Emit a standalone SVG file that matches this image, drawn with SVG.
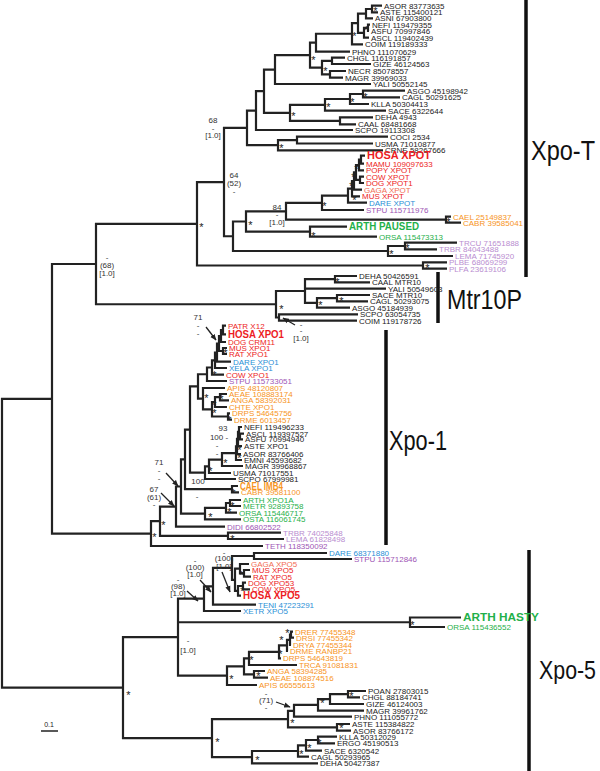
<svg xmlns="http://www.w3.org/2000/svg" width="600" height="771" viewBox="0 0 600 771">
<defs>
<style>
text{font-family:"Liberation Sans",Arial,sans-serif;font-size:8px;fill:#222}
.bd{font-weight:bold;font-size:10px}
.r{fill:#ed1c24}.s{fill:#f26d55}.b{fill:#2b8fd6}.p{fill:#9e55b5}.o{fill:#f7941d}.g{fill:#1fb04a}.l{fill:#b98dd0}
.e{stroke:#222;stroke-width:2.2;fill:none;stroke-linejoin:miter}
.a{fill:#333;text-anchor:middle}
.st text{font-size:11px;fill:#222}
.ar{stroke:#222;stroke-width:1.3;fill:none;marker-end:url(#ah)}
.big{font-size:23px;fill:#111}
.bar{stroke:#111;stroke-width:3.5}
</style>
<marker id="ah" viewBox="0 0 10 10" refX="9" refY="5" markerWidth="5" markerHeight="5" orient="auto"><path d="M0,1 L10,5 L0,9 z" fill="#222"/></marker>
</defs>
<rect width="600" height="771" fill="#fff"/>
<g id="connectors" class="e">
<path d="M382,5.7H372V12.3H378M372,9H366V18.3H373M370,24.7H368V31H369M368,27.850H364V37.7H369M366,13.65H358V32.8H364M358,23.2H352V44.3H363M352,33.75H316V51.7H350"/>
<path d="M345,57.7H332V64H371M346,71H330V77.7H343M332,60.85H322V74.35H330M316,42.7H310V67.6H322M310,55.15H275V84H371"/>
<path d="M405,90.7H363V97.3H400M363,94H350V104H369M350,99H325V110.7H386M373,117.3H340V124.3H356M325,104.85H290V120.8H340M275,69.6H264V112.8H290M264,91.2H256V130H353"/>
<path d="M388,136.7H297V143.5H373M297,140.1H278V150.3H383M256,110.6H247V145.2H278"/>
<path d="M365,155.7H361V163.7H364M361,159.7H359V170.3H364M364,176.7H360V183H364M359,165H356V179.85H360M356,172.4H354V189.7H362M354,181H352V196.3H360M352,188.65H348V202.7H367M348,195.7H322V210H364"/>
<path d="M451,216.7H446V222.7H461M322,202.85H286V219.7H446M347,226.7H310V236.7H377M286,211.3H246V231.7H310"/>
<path d="M457,242.7H405V249.3H437M405,246H388V256H453M246,221.5H233V251H388M247,127.9H224V236.25H233M447,262.3H423V268.7H447M224,182.1H197V265.5H423"/>
<path d="M357,276H335V282.3H370M370,295H337V301.3H368M337,298.15H317V307.7H350M335,279.15H305V302.9H317M305,288.7H386M358,314.3H279V320.7H357M305,291H276V317.5H279"/>
<path d="M197,223.8H96V304.25H276"/>
<path d="M226,325.7H223V334.3H226M223,330H221V342H226M227,348H223V354H227M221,336H219V351H223M219,343.5H217V361.7H231M217,352.6H215V368H227M215,360.3H212V374.7H224M212,367.5H207V381H227"/>
<path d="M230,413.3H228V419.7H232M227,394H220V400.3H229M220,397.15H215V407H227M215,402.1H212V416.5H228M225,388H203V409.3H212M207,374.25H198V398.65H203"/>
<path d="M244,433.7H240V439.3H243M242,427H239V436.5H240M239,431.75H238V446H242M238,438.9H237V454H241M237,446.45H236V460H242M236,453.2H222V466H243M222,459.6H209V473H231M209,466.3H205V479H236M198,386.45H190V472.65H205"/>
<path d="M238,486H232V492.3H239M190,429.55H185V489.15H232M241,500H230V506H241M230,503H226V512.7H237M226,507.85H205V519.3H241M185,459.35H181V513.6H205M181,486.5H176V526.7H225"/>
<path d="M281,532.7H228V539H284M176,506.6H160V535.85H228M160,521.2H151V546H263M96,264H52V533.6H151"/>
<path d="M250,570H244V576.7H251M249,564H240V573.35H244M246,582.7H243V589.3H250M243,586H238V595.7H241M240,568.7H235V590.85H238M327,553H254V559H352M254,556H232V579.8H235M232,567.9H213V604.7H256M213,586.3H204V611H241"/>
<path d="M461,617.5H410V627H445"/>
<path d="M293,631.7H291V637.7H294M291,634.7H290V645H291M290,639.85H287V651H288M287,645.4H279V658.3H281M279,651.85H249V665H297M265,671H254V677.7H268M249,658.4H244V674.35H254M244,666.4H227V685H257"/>
<path d="M204,598.65H178V675.7H227M178,622.25H410"/>
<path d="M366,691H348V697.3H360M348,694.15H330V704H364M330,699.1H318V710.7H364M318,704.9H294V716.7H352M350,724H337V730.7H351M294,710.8H288V727.35H337"/>
<path d="M337,736.7H318V743.3H335M318,740H306V750.7H322M306,745.35H298V756.7H309M298,751H252V763.3H318M288,719.1H212V757.15H252"/>
<path d="M178,637.2H123V738.1H212M52,398.8H2V687.65H123"/>
<path class="ar" d="M295,325L283,318"/>
<path class="ar" d="M206,327L216,340"/>
<path class="ar" d="M166,473L178,486"/>
<path class="ar" d="M161,493L174,506"/>
<path class="ar" d="M222,572L230,592"/>
<path class="ar" d="M200,580L211,592"/>
<path class="ar" d="M187,591L198,601"/>
<path class="ar" d="M276,702L290,707"/>
</g>
<g id="clade-bars">
<line class="bar" x1="526" y1="0" x2="526" y2="277"/>
<line class="bar" x1="438" y1="272" x2="438" y2="323"/>
<line class="bar" x1="386" y1="330" x2="386" y2="545"/>
<line class="bar" x1="529" y1="550" x2="529" y2="771"/>
<text class="big" transform="translate(531,160) scale(1,1.18)" x="0" y="0" textLength="64" lengthAdjust="spacingAndGlyphs">Xpo-T</text>
<text class="big" transform="translate(447,309) scale(1,1.18)" x="0" y="0" textLength="75" lengthAdjust="spacingAndGlyphs">Mtr10P</text>
<text class="big" transform="translate(389,450) scale(1,1.18)" x="0" y="0" textLength="58" lengthAdjust="spacingAndGlyphs">Xpo-1</text>
<text class="big" transform="translate(539,679) scale(1,1.18)" x="0" y="0" style="font-size:22px" textLength="57" lengthAdjust="spacingAndGlyphs">Xpo-5</text>
</g>
<g id="scale">
<line x1="41" y1="731" x2="58" y2="731" stroke="#222" stroke-width="1.5"/>
<text x="49" y="727" style="font-size:7px;text-anchor:middle">0.1</text>
</g>
<g id="support">
<text class="a" x="213" y="123">68</text><text class="a" x="213" y="131">-</text><text class="a" x="213" y="138">[1.0]</text>
<text class="a" x="234" y="178">64</text><text class="a" x="234" y="186">(52)</text><text class="a" x="234" y="194">-</text>
<text class="a" x="277" y="210">84</text><text class="a" x="277" y="217">-</text><text class="a" x="277" y="225">[1.0]</text>
<text class="a" x="107" y="260">-</text><text class="a" x="107" y="268">(68)</text><text class="a" x="107" y="276">[1.0]</text>
<text class="a" x="301" y="327">-</text><text class="a" x="301" y="333">-</text><text class="a" x="301" y="341">[1.0]</text>
<text class="a" x="198" y="320">71</text><text class="a" x="198" y="328">-</text><text class="a" x="198" y="336">-</text>
<text class="a" x="223" y="431">93</text><text class="a" x="219" y="440">100 -</text><text class="a" x="217" y="448">-</text><text class="a" x="217" y="456">-</text>
<text class="a" x="198" y="484">100</text><text class="a" x="197" y="499">-</text>
<text class="a" x="159" y="465">71</text><text class="a" x="159" y="473">-</text><text class="a" x="159" y="481">-</text>
<text class="a" x="154" y="492">67</text><text class="a" x="154" y="500">(61)</text><text class="a" x="154" y="507">-</text>
<text class="a" x="224" y="555">-</text><text class="a" x="224" y="561">(100)</text><text class="a" x="224" y="569">[1.0]</text>
<text class="a" x="195" y="563">-</text><text class="a" x="195" y="570">(100)</text><text class="a" x="195" y="577">[1.0]</text>
<text class="a" x="178" y="582">-</text><text class="a" x="178" y="589">(98)</text><text class="a" x="178" y="596">[1.0]</text>
<text class="a" x="188" y="643">-</text><text class="a" x="188" y="653">[1.0]</text>
<text class="a" x="266" y="696">-</text><text class="a" x="266" y="703">(71)</text><text class="a" x="266" y="710">-</text>
</g>
<g id="stars" class="st" transform="translate(-0.8,1.5)">
<text x="374" y="13">*</text><text x="365" y="32">*</text><text x="353" y="38">*</text><text x="312" y="62">*</text><text x="324" y="73">*</text><text x="327" y="109">*</text><text x="364" y="99">*</text><text x="351" y="104">*</text><text x="292" y="118">*</text><text x="280" y="150">*</text>
<text x="355" y="171">*</text><text x="352" y="179">*</text><text x="350" y="188">*</text><text x="353" y="202">*</text><text x="323" y="208">*</text><text x="447" y="224">*</text><text x="312" y="238">*</text><text x="249" y="227">*</text><text x="406" y="250">*</text><text x="390" y="256">*</text><text x="426" y="270">*</text><text x="200" y="229">*</text>
<text x="336" y="284">*</text><text x="340" y="303">*</text><text x="319" y="307">*</text><text x="280" y="311">*</text>
<text x="224" y="355">*</text><text x="213" y="377">*</text><text x="205" y="400">*</text><text x="220" y="401">*</text><text x="213" y="407">*</text><text x="213" y="415">*</text><text x="228" y="422">*</text><text x="238" y="452">*</text><text x="238" y="460">*</text><text x="224" y="465">*</text><text x="209" y="473">*</text><text x="232" y="495">*</text><text x="231" y="508">*</text><text x="228" y="514">*</text><text x="209" y="519">*</text><text x="162" y="527">*</text><text x="153" y="539">*</text><text x="231" y="541">*</text>
<text x="240" y="577">*</text><text x="241" y="593">*</text><text x="411" y="627">*</text><text x="286" y="635">*</text><text x="280" y="642">*</text><text x="279" y="656">*</text><text x="250" y="662">*</text><text x="257" y="678">*</text><text x="230" y="681">*</text><text x="127" y="697">*</text>
<text x="350" y="698">*</text><text x="321" y="705">*</text><text x="291" y="725">*</text><text x="340" y="730">*</text><text x="318" y="745">*</text><text x="308" y="750">*</text><text x="300" y="756">*</text><text x="256" y="762">*</text><text x="216" y="744">*</text>
</g>
<g id="xpoT-leaves">
<g id="t1"><text x="384" y="8.7">ASOR 83773635</text></g>
<g id="t2"><text x="380" y="15.3">ASTE 115400121</text></g>
<g id="t3"><text x="375" y="21.3">ASNI 67903800</text></g>
<g id="t4"><text x="372" y="27.7">NEFI 119479355</text></g>
<g id="t5"><text x="371" y="34">ASFU 70997846</text></g>
<g id="t6"><text x="371" y="40.7">ASCL 119402439</text></g>
<g id="t7"><text x="365" y="47.3">COIM 119189333</text></g>
<g id="t8"><text x="352" y="54.7">PHNO 111070629</text></g>
<g id="t9"><text x="347" y="60.7">CHGL 116191857</text></g>
<g id="t10"><text x="373" y="67">GIZE 46124563</text></g>
<g id="t11"><text x="348" y="74">NECR 85078557</text></g>
<g id="t12"><text x="345" y="80.7">MAGR 39969033</text></g>
<g id="t13"><text x="373" y="87">YALI 50552145</text></g>
<g id="t14"><text x="407" y="93.7">ASGO 45198942</text></g>
<g id="t15"><text x="402" y="100.3">CAGL 50291625</text></g>
<g id="t16"><text x="371" y="107">KLLA 50304413</text></g>
<g id="t17"><text x="388" y="113.7">SACE 6322644</text></g>
<g id="t18"><text x="375" y="120.3">DEHA 4943</text></g>
<g id="t19"><text x="358" y="127.3">CAAL 68481668</text></g>
<g id="t20"><text x="355" y="133">SCPO 19113308</text></g>
<g id="t21"><text x="390" y="139.7">COCI 2534</text></g>
<g id="t22"><text x="375" y="146.5">USMA 71010877</text></g>
<g id="t23"><text x="385" y="153.3">CRNE 58267666</text></g>
<g id="t24"><text class="bd r" x="367" y="159.3" textLength="64" lengthAdjust="spacingAndGlyphs">HOSA XPOT</text></g>
<g id="t25"><text class="r" x="366" y="166.7">MAMU 109097633</text></g>
<g id="t26"><text class="r" x="366" y="173.3">POPY XPOT</text></g>
<g id="t27"><text class="r" x="366" y="179.7">COW XPOT</text></g>
<g id="t28"><text class="r" x="366" y="186">DOG XPOT1</text></g>
<g id="t29"><text class="s" x="364" y="192.7">GAGA XPOT</text></g>
<g id="t30"><text class="r" x="362" y="199.3">MUS XPOT</text></g>
<g id="t31"><text class="b" x="369" y="205.7">DARE XPOT</text></g>
<g id="t32"><text class="p" x="366" y="213">STPU 115711976</text></g>
<g id="t33"><text class="o" x="453" y="219.7">CAEL 25149837</text></g>
<g id="t34"><text class="o" x="463" y="225.7">CABR 39585041</text></g>
<g id="t35"><text class="bd g" x="349" y="230.3" textLength="70" lengthAdjust="spacingAndGlyphs">ARTH PAUSED</text></g>
<g id="t36"><text class="g" x="379" y="239.7">ORSA 115473313</text></g>
<g id="t37"><text class="l" x="459" y="245.7">TRCU 71651888</text></g>
<g id="t38"><text class="l" x="439" y="252.3">TRBR 84043488</text></g>
<g id="t39"><text class="l" x="455" y="259">LEMA 71745920</text></g>
<g id="t40"><text class="l" x="449" y="265.3">PLBE 68069299</text></g>
<g id="t41"><text class="l" x="449" y="271.7">PLFA 23619106</text></g>
</g>
<g id="mtr10-leaves">
<g id="m1"><text x="359" y="279">DEHA 50426591</text></g>
<g id="m2"><text x="372" y="285.3">CAAL MTR10</text></g>
<g id="m3"><text x="388" y="291.7">YALI 50549603</text></g>
<g id="m4"><text x="372" y="298">SACE MTR10</text></g>
<g id="m5"><text x="370" y="304.3">CAGL 50293075</text></g>
<g id="m6"><text x="352" y="310.7">ASGO 45184939</text></g>
<g id="m7"><text x="360" y="317.3">SCPO 63054735</text></g>
<g id="m8"><text x="359" y="323.7">COIM 119178726</text></g>
</g>
<g id="xpo1-leaves">
<g id="a1"><text class="r" x="228" y="328.7">PATR X12</text></g>
<g id="a2"><text class="bd r" x="228" y="337.9" textLength="56" lengthAdjust="spacingAndGlyphs">HOSA XPO1</text></g>
<g id="a3"><text class="r" x="228" y="345">DOG CRM11</text></g>
<g id="a4"><text class="r" x="229" y="351">MUS XPO1</text></g>
<g id="a5"><text class="r" x="229" y="357">RAT XPO1</text></g>
<g id="a6"><text class="b" x="233" y="364.7">DARE XPO1</text></g>
<g id="a7"><text class="b" x="229" y="371">XELA XPO1</text></g>
<g id="a8"><text class="r" x="226" y="377.7">COW XPO1</text></g>
<g id="a9"><text class="p" x="229" y="384">STPU 115733051</text></g>
<g id="a10"><text class="o" x="227" y="391">APIS 48120807</text></g>
<g id="a11"><text class="o" x="229" y="397">AEAE 108883174</text></g>
<g id="a12"><text class="o" x="231" y="403.3">ANGA 58392031</text></g>
<g id="a13"><text class="o" x="229" y="410">CHTE XPO1</text></g>
<g id="a14"><text class="o" x="232" y="416.3">DRPS 54645756</text></g>
<g id="a15"><text class="o" x="234" y="422.7">DRME 6013457</text></g>
<g id="a16"><text x="244" y="430">NEFI 119496233</text></g>
<g id="a17"><text x="246" y="436.7">ASCL 119397527</text></g>
<g id="a18"><text x="245" y="442.3">ASFU 70994940</text></g>
<g id="a19"><text x="244" y="449">ASTE XPO1</text></g>
<g id="a20"><text x="243" y="457">ASOR 83766406</text></g>
<g id="a21"><text x="244" y="463">EMNI 45593682</text></g>
<g id="a22"><text x="245" y="469">MAGR 39968867</text></g>
<g id="a23"><text x="233" y="476">USMA 71017551</text></g>
<g id="a24"><text x="238" y="482">SCPO 67999981</text></g>
<g id="a25"><text class="bd o" x="240" y="489.6" textLength="43" lengthAdjust="spacingAndGlyphs">CAEL IMB4</text></g>
<g id="a26"><text class="o" x="241" y="495.3">CABR 39581100</text></g>
<g id="a27"><text class="g" x="243" y="503">ARTH XPO1A</text></g>
<g id="a28"><text class="g" x="243" y="509">METR 92893758</text></g>
<g id="a29"><text class="g" x="239" y="515.7">ORSA 115446717</text></g>
<g id="a30"><text class="g" x="243" y="522.3">OSTA 116061745</text></g>
<g id="a31"><text class="p" x="227" y="529.7">DIDI 66802522</text></g>
<g id="a32"><text class="l" x="283" y="535.7">TRBR 74025848</text></g>
<g id="a33"><text class="l" x="286" y="542">LEMA 61828498</text></g>
<g id="a34"><text class="p" x="265" y="549">TETH 118350092</text></g>
</g>
<g id="xpo5-leaves">
<g id="f1"><text class="b" x="329" y="556">DARE 68371880</text></g>
<g id="f2"><text class="p" x="354" y="562">STPU 115712846</text></g>
<g id="f3"><text class="s" x="251" y="567">GAGA XPO5</text></g>
<g id="f4"><text class="r" x="252" y="573">MUS XPO5</text></g>
<g id="f5"><text class="r" x="253" y="579.7">RAT XPO5</text></g>
<g id="f6"><text class="r" x="248" y="585.7">DOG XPO53</text></g>
<g id="f7"><text class="r" x="252" y="592.3">COW XPO5</text></g>
<g id="f8"><text class="bd r" x="243" y="599.3" textLength="57" lengthAdjust="spacingAndGlyphs">HOSA XPO5</text></g>
<g id="f9"><text class="b" x="258" y="607.7">TENI 47223291</text></g>
<g id="f10"><text class="b" x="243" y="614">XETR XPO5</text></g>
<g id="f11"><text class="bd g" x="463" y="621.1" textLength="76" lengthAdjust="spacingAndGlyphs">ARTH HASTY</text></g>
<g id="f12"><text class="g" x="447" y="630">ORSA 115436552</text></g>
<g id="f13"><text class="o" x="295" y="634.7">DRER 77455348</text></g>
<g id="f14"><text class="o" x="296" y="640.7">DRSI 77455342</text></g>
<g id="f15"><text class="o" x="293" y="648">DRYA 77455344</text></g>
<g id="f16"><text class="o" x="290" y="654">DRME RANBP21</text></g>
<g id="f17"><text class="o" x="283" y="661.3">DRPS 54643819</text></g>
<g id="f18"><text class="o" x="299" y="668">TRCA 91081831</text></g>
<g id="f19"><text class="o" x="267" y="674">ANGA 58394285</text></g>
<g id="f20"><text class="o" x="270" y="680.7">AEAE 108874516</text></g>
<g id="f21"><text class="o" x="259" y="688">APIS 66555613</text></g>
<g id="f22"><text x="368" y="694">POAN 27803015</text></g>
<g id="f23"><text x="362" y="700.3">CHGL 88184741</text></g>
<g id="f24"><text x="366" y="707">GIZE 46124003</text></g>
<g id="f25"><text x="366" y="713.7">MAGR 39961762</text></g>
<g id="f26"><text x="354" y="719.7">PHNO 111055772</text></g>
<g id="f27"><text x="352" y="727">ASTE 115384822</text></g>
<g id="f28"><text x="353" y="733.7">ASOR 83766172</text></g>
<g id="f29"><text x="339" y="739.7">KLLA 50312029</text></g>
<g id="f30"><text x="337" y="746.3">ERGO 45190513</text></g>
<g id="f31"><text x="324" y="753.7">SACE 6320542</text></g>
<g id="f32"><text x="311" y="759.7">CAGL 50293965</text></g>
<g id="f33"><text x="320" y="766.3">DEHA 50427387</text></g>
</g>
</svg>
